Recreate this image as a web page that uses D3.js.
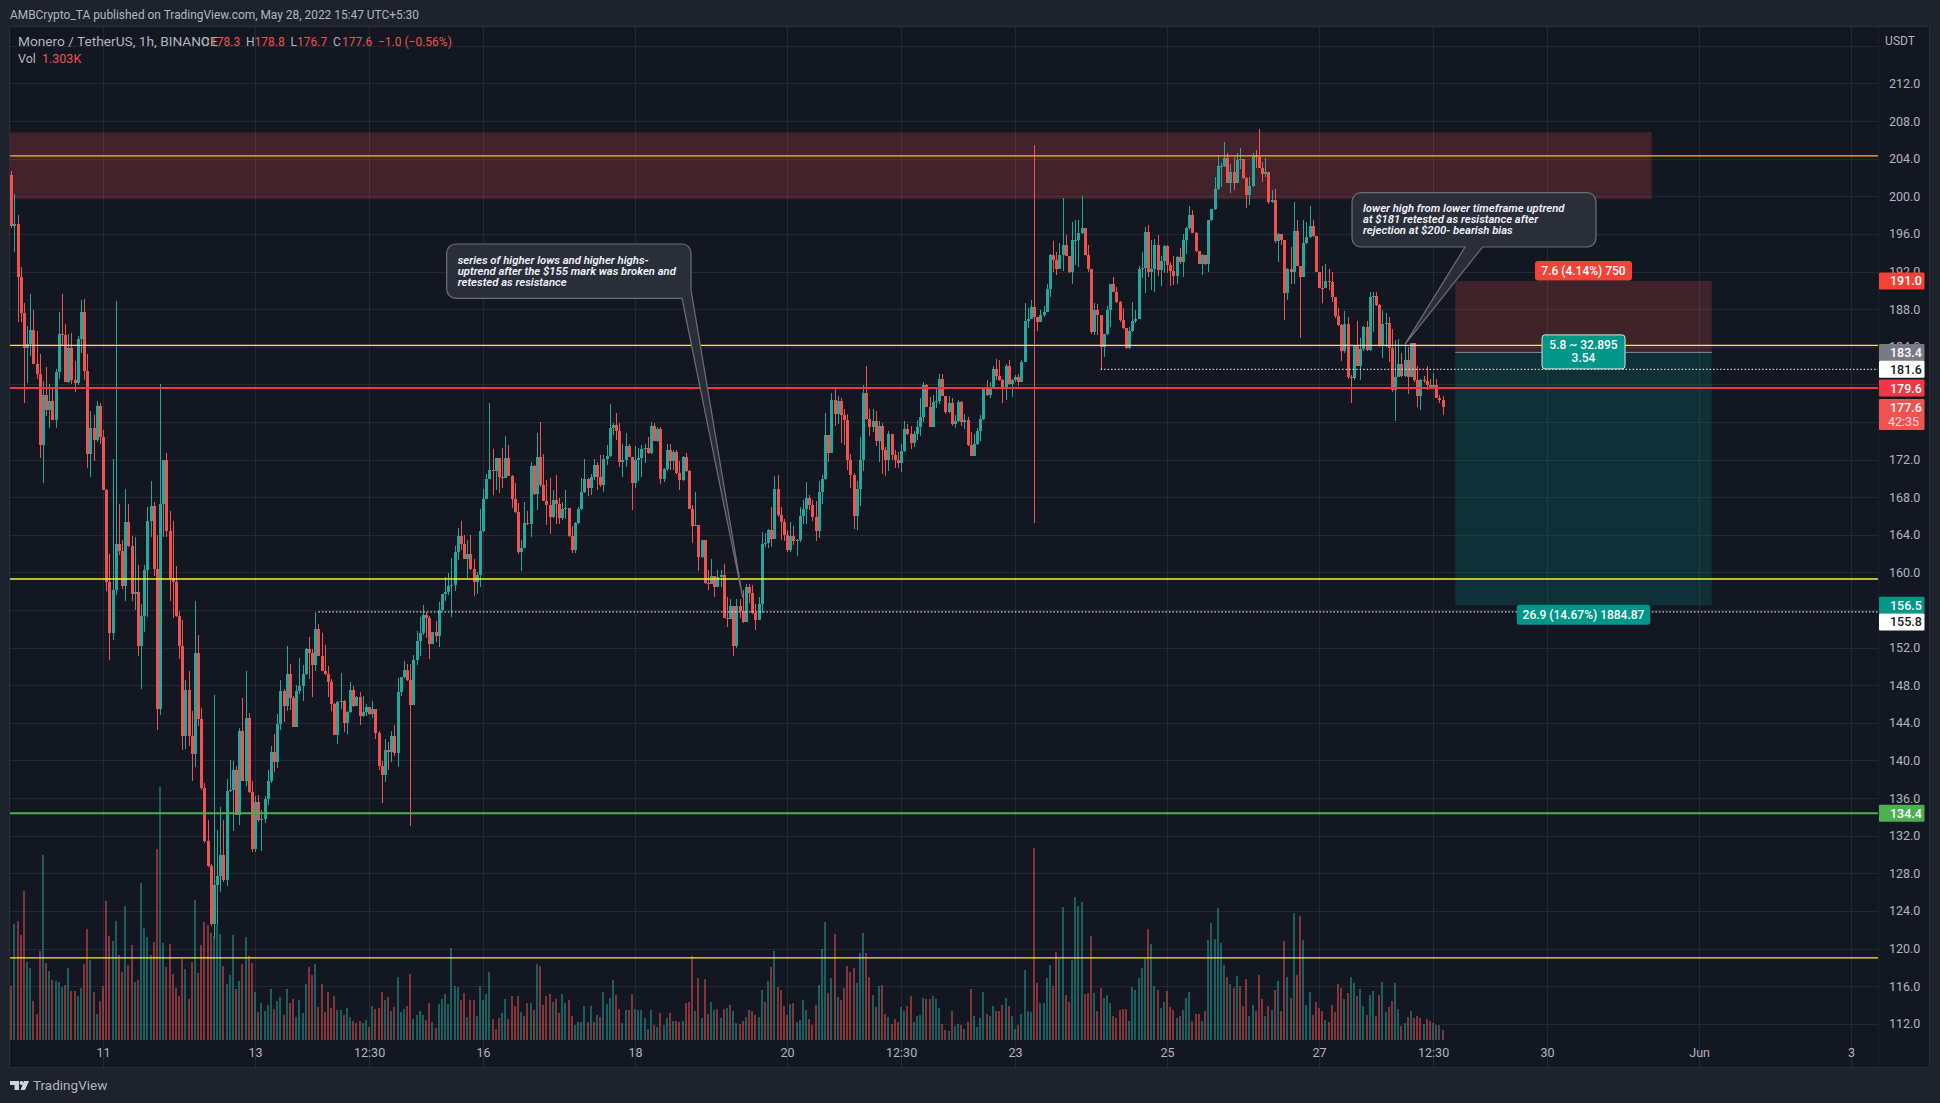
<!DOCTYPE html>
<html>
<head>
<meta charset="utf-8">
<title>XMR/USDT 1h</title>
<script src="https://cdn.jsdelivr.net/npm/d3@7"></script>
<style>
  html, body { margin: 0; padding: 0; background: #1e222d; overflow: hidden; }
  svg { display: block; }
  text { font-family: Roboto, "Noto Sans", sans-serif; }
</style>
</head>
<body>
<div id="chart"></div>
<script>
// Hourly candles. Each open is the close before it.
const firstOpen = 202.3;
const closes = [
  196.8,197.05,191.45,187.6,183.9,184.3,185.8,182.2,181.1,173.5,
  178.9,177.3,178.2,176.2,181.3,185.4,185.3,180.3,183.9,180.5,
  180.1,184.8,187.7,181.4,172.6,175.4,174.1,177.7,174.4,168.8,
  159,153.6,158.1,163,162.3,158.6,165.4,162.8,157.7,157.9,
  152.2,155.4,160.3,165.5,167.1,160.4,145.5,167.3,172,164.4,
  159.4,159,155.4,152.2,142.6,147.5,142.6,140.7,151.4,144.4,
  137.1,131.4,128.8,122.6,126.8,127.7,130,127.3,136.8,136.9,
  139,134.2,143.1,137.8,144.5,136.6,130.6,135.6,133.7,133.8,
  135.9,137.8,140.9,139.8,143.9,147.4,145.8,149.2,146.6,143.6,
  147.4,147.9,149.2,151.9,151.4,150.2,154,151.1,149.5,149.2,
  148.3,146,142.7,146.2,146.3,144,145.2,147.5,145.8,146.8,
  144.7,145.2,145.7,144.9,145.5,142.9,139.4,138.5,141.1,140.9,
  142.6,140.8,147.3,148.9,149.6,148.6,145.9,150.7,152.7,153.6,
  155.5,155.2,152.4,153.7,153.2,156,157.7,157.9,158.6,158.7,
  162.2,163.9,163,161.4,162,160.4,159,159.7,164.4,167.8,
  169.9,170.9,170.8,172.2,170.1,170,172.2,170.3,167.8,166.4,
  162.2,162.6,165.3,165.1,171.3,168.3,172.3,169.3,167.6,167.2,
  165.9,167.7,167.3,165.8,166.7,166.8,163.9,162.4,165.3,166.7,
  168.6,169.9,169,170.1,171.4,170.2,169.3,172.1,172.4,175.4,
  175.7,175,171.7,172,173.4,172.3,169.5,172,172.2,173.1,
  173.2,172.7,175.6,174,175.2,169.9,171,173,171.9,172.8,
  170.6,169.8,172.3,170.8,166.7,164.9,165.05,161.6,163.4,158.9,
  158.8,159.6,158.4,159.5,159.7,155.1,155,156.4,152.2,156.4,
  155.9,154.7,158.4,157.8,155.7,154.9,156.6,163,163.1,164.5,
  163.6,168.9,166.1,165.4,164,162.4,163.9,163.3,163.4,166,
  166.7,167.9,167.2,165.9,164.4,168.5,169.9,174.6,172.7,178.3,
  176.9,178.2,176.7,176.2,172,170.4,166,168.9,172,179.1,
  176.3,175.5,176.1,174,175.6,173,172,174.7,172.5,172,
  171.6,172.9,175.2,174.7,173.8,174.7,175.5,176.5,179.9,177.6,
  175.5,178.1,178.2,180.6,178.8,177.1,178,175.8,176.1,178.1,
  176,176.2,173.6,172.4,173.7,175,176.3,179.5,178.9,179.6,
  181.6,180.9,180.5,179.6,182,180,180.5,180.8,180.2,182.4,
  186.7,187,188.2,187.2,186.6,187.4,187.7,190.1,193.75,193.2,
  192.3,193.75,194.8,193.65,192,195.35,195.4,196.1,196.6,193.75,
  192.3,185.6,187.9,187.4,184,185.35,187.9,190.7,189.85,188.8,
  186.8,186,183.9,185.7,186.7,187,192.3,192.35,196.2,191.9,
  192.3,194.8,192.15,193.1,194.7,192.7,192.1,191.55,193.5,193,
  195.4,196.6,198,196.15,194.2,192.85,193.75,192.85,197.5,198.6,
  200.8,203.2,203.25,204.1,201.4,202.6,201.4,203.9,203.95,201.9,
  200.1,201.1,204.3,204.2,203,202.4,202.6,199.4,199.6,195.2,
  196,195.3,189.75,192.3,192,196.3,192.6,191.4,195,195.7,
  196.8,195.75,192,190.3,190.2,191,190.9,189.25,187.3,186.3,
  183.6,186.4,180.8,180.7,184.1,182,183.8,186.05,183.7,189.3,
  189.4,188.4,184.1,186.4,186.5,183.9,179.45,180.8,182.2,180.9,
  182.6,180.8,184.35,180.45,178.8,180.5,180.4,179.9,179.6,179.9,
  178.6,178.3,177.6
];
const highs = [
  202.7,200.2,198,192.5,188.7,186.2,189.6,187.9,185.7,183.2,
  180.4,181.8,180,179.6,181.6,187.7,189.6,186.4,185.4,185.5,
  182.5,185.1,189,189.1,183.2,177.2,176.7,178.2,178,175.1,
  168.9,162,172.1,188.9,167.3,163.5,168.9,167.3,163.9,163.8,
  160.8,156.6,160.8,167,169.7,167.5,164,180,172,172.7,
  166.5,165.5,160.7,155.9,154.9,148.6,149.5,145.3,157,153.3,
  145.6,137.6,133.7,129,147,132.6,135,133.7,138,140,
  139.9,139.4,143.5,146.6,149.5,145,137.8,136.2,136.3,134.7,
  136.2,139,141.5,142.8,144.9,148.6,147.6,152.2,150.3,146.9,
  148,150.9,150.2,152,153.1,151.9,155.8,154.5,153.6,152.3,
  150,148.7,146.1,146.3,149.3,146.4,145.3,148.3,147.9,146.9,
  147.3,146.9,146,145.6,146.3,145.5,143.1,139.9,142.3,142,
  143.1,143.8,148.8,148.9,150.6,150.3,150.3,151.2,153.8,155.3,
  156.5,155.8,155.4,153.7,154.8,156.9,157.7,159.5,159.9,161.5,
  162.8,164.7,165.5,164,163.4,164,161.4,160,166.7,168.9,
  170.5,178,173.1,172.2,172.2,173.2,174.5,173.5,170.4,169.5,
  167.4,163.4,167.5,166.5,171.7,171.4,174.8,176,172.6,169.8,
  170,168.8,170.4,167.9,167.5,168.8,166.8,164.9,165.4,167,
  170,172.1,170,170.5,172.1,171.7,172.5,172.5,173.6,177.9,
  175.9,177,175.9,173.7,174.8,173.7,172.3,173.4,173.2,173.6,
  173.7,174.4,176,175.9,175.5,175.5,171.1,173.7,173.7,173,
  173,171.8,172.4,172.7,170.9,167.2,168.5,165,163.5,163.4,
  160.3,161.4,159.6,160.3,160.3,160.9,157.4,157.2,155.1,157.2,
  157.2,158.1,158.8,158.8,158.7,156.6,157.4,164.3,164.2,164.6,
  167,170.3,170.4,167,165.7,164.5,165.4,164.9,163.6,167,
  167.7,169.6,168.2,167.7,167.6,169.7,170.4,177,174.6,179.1,
  179.7,178.8,178.5,177.4,176.9,172.6,170.6,169.7,174.4,179.9,
  181.9,177.4,177.4,177.2,176.1,175.9,173.3,175,174.7,173,
  172.8,173.7,176.1,175.8,175.6,175,176.2,178.5,180.2,180,
  178.7,178.9,179.6,181.1,181.1,178.8,178.8,178.6,176.7,178.3,
  178.2,176.9,176.5,174.9,174.7,175.4,176.7,179.6,180.5,180.2,
  181.9,182.7,182.6,180.6,182.2,182.6,180.6,181,181.1,182.6,
  188.7,188.1,189,205.45,186.6,187.9,188.3,190.7,193.9,195.2,
  194.1,195,199.8,195.9,193.7,197.3,197.5,197.5,200,196.6,
  194.8,192.3,188.6,188.5,187.4,185.4,188.3,190.7,191.4,190.4,
  188.9,188.1,186,186.1,188.8,187.9,192.6,194.1,196.7,197,
  195.3,195.5,195.9,193.6,194.8,194.8,193,193.6,193.6,194.5,
  196,196.7,199,198.5,196.2,194.2,193.9,193.7,197.5,198.7,
  202.1,204.3,203.5,205.8,204.6,203.4,204.2,204.6,205.1,203.9,
  202,202.1,204.6,204.9,207.2,203.7,204.1,202.5,200.7,200.8,
  196.1,195.8,195.3,192.4,194.6,199.4,197.5,192.6,197.5,197.3,
  199,197.5,195.8,192,192.6,192.8,192.3,192,189.3,188.1,
  186.4,187.8,187.2,181,184.2,186.7,184.9,186.2,186.7,189.8,
  189.8,189.8,188.5,187.9,187.6,187.2,185.9,184.7,184.8,183.3,
  184.3,184,184.4,184.4,181.9,180.6,180.9,181.9,180.6,181.2,
  180.6,178.9,178.8
];
const lows = [
  196.6,194.1,186.6,186.6,178,180.1,183,182.2,180.6,172.2,
  169.5,176.6,175.4,176.2,175.4,180.6,184.2,180.3,180.1,180,
  179.2,179.9,183.3,180.5,171.1,170.1,171.8,173.9,173.7,168.8,
  158,150.7,152.8,157.6,161.9,158.2,157,162.7,157,156,
  151.1,147.6,153.7,155.3,163.8,159.6,143.2,144.8,163.8,163.8,
  157,155.1,155.3,150.8,141.1,141.2,141.5,137.8,139.3,143.7,
  136.9,131.2,128.7,122.4,121.1,122.5,126,127.1,126.6,136.7,
  132.5,134.2,133.1,137.8,137.3,136.5,130.3,130.3,133.5,130.4,
  133.4,135.3,137.6,138.8,139.2,143.2,144.1,145.3,145.4,143.6,
  143.6,147.1,146.3,149.1,148.7,146.8,149.5,151.1,149.5,149.1,
  146.8,145.3,142.7,141.8,145.5,143,142.8,145.1,145.7,145.9,
  143.8,144.6,144.7,144.8,144.5,142.3,139,135.5,137.7,139,
  139.8,140.5,139.3,146.9,148.8,148.4,133,145.9,150.2,151.1,
  153.3,153,150.8,152.4,152.6,152.1,155.9,157,157.6,155.3,
  158,161.3,162.4,161.4,159.4,160.3,157.5,157.7,158.5,164.3,
  167.8,169.9,168.2,168.8,168.4,169,170,170.3,166.8,166.3,
  162,160.1,162.6,165,163.8,168.2,166.6,169.1,167.6,165,
  164.1,165.8,165.2,165.2,165.6,165.7,163.8,162.1,162.1,165.1,
  166.6,168.4,168.1,168.2,169.8,168.8,169.1,168.6,171.4,172.3,
  174.6,174.1,171.2,170.2,171.2,172.3,166.6,169,169.7,170.2,
  171.6,172.6,172.6,174,173.9,169.4,169.6,170.8,170.9,170.9,
  170.5,168.8,169.7,170.7,166.7,163.1,164.9,160.1,161.5,158.8,
  158.1,158.8,157.4,158.4,158.4,155.1,154.2,155,151.1,152,
  155.2,154.6,154.7,156.7,155.6,153.9,154.9,155.7,162.7,162.6,
  162.7,163.6,165.9,163.4,163.3,162.2,162.2,162.9,161.7,163.2,
  165.2,165.2,166.6,165.5,163.3,163.7,167.3,169.8,171.7,172.7,
  175.6,175.8,173.8,173.6,170.9,169,164.6,164.5,167.1,170.8,
  176.2,174.5,174.9,173.4,171.7,170.5,170.3,170.8,172,171.1,
  171.1,170.7,172.8,174.6,173.1,173.3,174.1,174.5,176,177.6,
  175.5,175.5,177.5,177.9,178.8,176.9,177,175.6,175.4,176,
  175.6,175.2,173.4,172.4,172.4,173.5,174,176.2,178.8,178.5,
  179.5,180.5,180.4,178,178.3,179.9,178.7,180.2,179.8,180.3,
  182.4,186,187,165.3,185.7,186.6,187.2,187.7,189.3,192,
  191.6,192.3,192.1,193.6,191.8,190.7,192.7,192.5,196,193.75,
  192,185.4,185.3,185.2,181.6,182.9,185.3,186.1,189.85,188.7,
  186.6,185.9,183.8,183.8,185.6,186.5,187,191.3,189.7,191.4,
  190,189.8,191.5,190.5,191.8,191.8,190.5,190.6,190.7,192.8,
  191.45,193.9,196.4,196.1,194.1,192.85,191.6,192.7,192,197.4,
  198.5,200.7,201,203.1,201.4,200.4,200.7,201.4,202.9,201.8,
  198.8,199.1,201,203,203,201.5,202.1,199.2,199.3,195,
  193,194.8,186.8,189,190.7,190.7,192.6,184.9,191.4,194.9,
  195.6,195.7,191.9,190.2,188.7,190.2,190,188.8,187.1,186.2,
  182.5,183.3,180.6,178,180.5,181.9,180.5,183.5,183.5,183.6,
  185.6,188.3,184,182.8,184,182.4,179.2,176.1,180.8,180.8,
  180.8,179,180.8,180.3,177.6,177.3,180.1,179.4,179.5,179.5,
  178.5,178,176.7
];
// Volume in thousands. Negative = the bar is a down hour.
const volumes = [
  -7,15.1,-15.5,-13.7,-19.4,10.2,9.4,-5.1,-3.4,-11.6,
  24.1,-10,9,-7.8,7.7,7.6,6.9,-7.2,9.4,-6.4,
  -6.4,5.7,6.8,-9.9,-14.5,10.4,-6.3,3.4,-5.1,-7,
  -18.1,-13.6,12.9,15.5,-11.1,-8.9,17.5,-9.8,-12.4,7.6,
  -7.8,20.5,14.6,13.4,11.1,-12.8,-24.9,33,12.7,-9.5,
  -12.5,-8.6,-6.8,-5.7,-10.6,9.3,-5.3,-10.2,18.3,-8.7,
  -12.4,-15.4,-15,-14,13.5,15,13.8,-9.7,7.3,8.5,
  13.7,-6.7,7.7,-9.9,13.4,-11,-10,6.3,-3.7,4.8,
  3.8,4.6,6.7,-4,5.1,5.6,-3.3,6.7,-4.8,-5.3,
  3,5.2,3.5,7.3,-9.5,-8.5,9.9,-4.3,-7.3,-3.7,
  -6.3,-4.2,-5.7,3.9,3.9,-3.3,4.2,3,-2.5,-2.2,
  -2.5,2.2,2.6,-1.7,4.4,-4,-4.2,-6.3,5.2,-5.6,
  3.8,-4.3,8.2,3.6,4,-4.4,-8.6,2.8,3.3,3.8,
  3.3,-2.6,-4.8,2.4,-1.6,4.7,5.4,6,4.7,12,
  7,6.9,-5.2,-6.1,3,-5.2,-5.2,3.1,7,5.2,
  6,8.9,-2.8,-1.4,-2.9,3.5,5.4,-2.7,-5.7,-4.4,
  -5.8,3.7,-3.1,-4.8,4.8,-3.9,9.9,-9.7,-4.6,-5.7,
  -6,5,-5.3,-3.5,6,4.8,-5.2,-3.1,2,2.3,
  2.3,4.4,-2.3,4.4,-2.3,3.2,-3,6.3,4.7,5.5,
  7.8,-5.9,-4,2.2,3.9,-3.9,-6,4.1,3.9,3.9,
  2.9,-1.4,3.9,-2,1.7,-3.5,2,2.9,-3.5,2.5,
  -2.5,-2.3,2.5,-4.8,-5,-11,3.8,-8.1,2.9,-8,
  -3.4,5,3.9,-4,2.9,-4,4.2,-4.6,3.8,2.2,
  -2.1,-2.5,3,-3.9,-3.8,-3.3,3,6.5,-5,7.7,
  -9.5,11.6,-6.9,-6.5,-4.4,-3.3,4.7,-4.8,2.3,2.6,
  5.2,3.9,-2.7,-2,-4.6,7.2,11.9,15.4,-6.1,8.1,
  -13.8,5.6,-5.2,-6.8,-9.7,-8.9,-9.4,7.4,11.3,14,
  -11.3,-8.2,5.9,-4.3,7,-7.2,-3.4,3,-2.1,-2.7,
  -2.3,4.3,3.8,-4.4,-5.7,2.3,3.1,3.3,5.5,-5.3,
  -5.3,5.7,5.3,4.2,-2.1,-1.3,1.2,-3.8,1.8,2.1,
  -2,1.4,-2.3,-6.7,3.1,1.7,2.9,6.3,-3.4,3.1,
  4.4,-3.8,-3.8,-4.6,5.5,-4.4,3.1,1.4,-2,3.4,
  9.1,3.8,3.7,-25,-7.4,4.8,4.8,8.1,9.8,-7,
  -11.5,10.6,17.3,-5.9,-5,10.4,18.7,17.5,18,-6,
  -6.1,-13.6,6.1,-3.8,-6.8,5.5,5.9,4.8,-3.1,-2.9,
  -3.9,-4,-4,2.5,6.9,6.5,8.1,9.4,10.6,-14.5,
  12.5,7,-6.5,4.2,5,-6.4,-4.3,-3.9,2.9,-3.1,
  3.9,5.5,6.3,-2.5,-3.4,-3.4,2.5,-3.8,13,15.3,
  13.2,17.2,12.7,9.8,-8.2,7.3,-6.8,8.3,-7,-4.4,
  -8,3.1,4.6,-3.8,-8.5,-5.3,3.1,-4.4,3.9,-6.5,
  7.7,-3.8,-12.9,8.2,-5.5,16.6,-8.5,-16.2,13,4.6,
  6.3,-3.3,-5,-4.2,-3.8,2.6,-2.3,-4.6,-3.7,-7.3,
  -6.8,5.3,-6.1,8.2,7.4,-5.7,6.7,4.4,-3.3,5.9,
  6.4,-3.1,-5.9,7.6,3.7,-4.3,-5.1,7.4,4,-1.8,
  2.2,-3,3.8,-2.9,-3.1,-2.9,2.1,-2.7,-2.5,2.2,
  -2,2,-1.3
];

// 156, 176 and 180 sit fully behind the price tags in the picture, so they get no label
const priceTicks = [112,116,120,124,128,132,136,140,144,148,152,160,164,168,172,184,188,192,196,200,204,208,212];
const gridPrices = d3.range(112, 217, 4);
const timeTickBars = [29, 77, 113, 149, 197, 245, 281, 317, 365, 413, 449, 485, 533, 581];
const timeTickLabels = ['11', '13', '12:30', '16', '18', '20', '12:30', '23', '25', '27', '12:30', '30', 'Jun', '3'];

// horizontal levels drawn on the chart
const levelPrices = [204.3, 184.15, 159.3, 119];
const supportPrice = 134.4;
const resistancePrice = 179.6;
const dottedLevels = [[181.6, 344], [155.8, 97]]; // price, bar where the dots start
const resistanceZone = [206.8, 199.7];
const stopPrice = 191, entryPrice = 183.4, targetPrice = 156.5;
const priceTags = ['191.0', '183.4', '181.6', '179.6', '156.5', '155.8', '134.4'];
const tagColors = ['#f44336', '#787b86', '#ffffff', '#f23645', '#009688', '#ffffff', '#4caf50'];

const width = 1940, height = 1103;
const paneLeft = 10, paneRight = 1878, paneTop = 27, paneBottom = 1067, volumeBase = 1040;
const upColor = '#26a69a', downColor = '#ef5350', axisColor = '#b2b5be';

const x = d3.scaleLinear().domain([0, 452]).range([11.26, 1442.6]);
const y = d3.scaleLinear().domain([200, 132]).range([196.3, 835.7]);
const volY = d3.scaleLinear().domain([0, 100]).range([volumeBase, volumeBase - 767]);

const bars = closes.map((close, i) => ({
  i, close,
  open: i === 0 ? firstOpen : closes[i - 1],
  high: highs[i],
  low: lows[i],
  vol: Math.abs(volumes[i]),
  volUp: volumes[i] > 0
}));

const svg = d3.select('#chart').append('svg')
  .attr('width', width)
  .attr('height', height);

// pane
svg.append('rect').attr('width', width).attr('height', height).attr('fill', '#1e222d');
svg.append('rect')
  .attr('x', paneLeft - 0.5).attr('y', paneTop - 0.5)
  .attr('width', 1930 - paneLeft).attr('height', paneBottom - paneTop + 1)
  .attr('fill', '#131722').attr('stroke', '#2a2e39').attr('stroke-width', 1);

svg.append('clipPath').attr('id', 'pane').append('rect')
  .attr('x', paneLeft).attr('y', paneTop)
  .attr('width', paneRight - paneLeft).attr('height', paneBottom - paneTop);

const plot = svg.append('g').attr('clip-path', 'url(#pane)');

// grid
plot.selectAll('.hgrid')
  .data(gridPrices)
  .join('line')
    .attr('x1', paneLeft).attr('x2', paneRight)
    .attr('y1', d => Math.round(y(d)) + 0.5).attr('y2', d => Math.round(y(d)) + 0.5)
    .attr('stroke', '#242832');
plot.selectAll('.vgrid')
  .data(timeTickBars)
  .join('line')
    .attr('x1', d => Math.round(x(d)) + 0.5).attr('x2', d => Math.round(x(d)) + 0.5)
    .attr('y1', paneTop).attr('y2', volumeBase + 27)
    .attr('stroke', '#242832');

// resistance box at the top, then the short position boxes
plot.append('rect')
  .attr('x', paneLeft).attr('width', x(518) - paneLeft)
  .attr('y', y(resistanceZone[0])).attr('height', y(resistanceZone[1]) - y(resistanceZone[0]))
  .attr('fill', '#ef5350').attr('fill-opacity', 0.22);
plot.append('rect')
  .attr('x', x(456)).attr('width', x(537) - x(456))
  .attr('y', y(stopPrice)).attr('height', y(entryPrice) - y(stopPrice))
  .attr('fill', '#ef5350').attr('fill-opacity', 0.2);
plot.append('rect')
  .attr('x', x(456)).attr('width', x(537) - x(456))
  .attr('y', y(entryPrice)).attr('height', y(targetPrice) - y(entryPrice))
  .attr('fill', '#009688').attr('fill-opacity', 0.2);

// volume
plot.selectAll('.vol')
  .data(bars)
  .join('rect')
    .attr('class', 'vol')
    .attr('x', d => Math.round(x(d.i)) - 1)
    .attr('width', 2)
    .attr('y', d => volY(d.vol))
    .attr('height', d => volumeBase - volY(d.vol))
    .attr('fill', d => d.volUp ? upColor : downColor)
    .attr('fill-opacity', 0.5)
    .attr('shape-rendering', 'crispEdges');

// candles
plot.selectAll('.wick')
  .data(bars)
  .join('rect')
    .attr('class', 'wick')
    .attr('x', d => Math.round(x(d.i)))
    .attr('width', 1)
    .attr('y', d => y(d.high))
    .attr('height', d => y(d.low) - y(d.high))
    .attr('fill', d => d.close >= d.open ? upColor : downColor)
    .attr('shape-rendering', 'crispEdges');
plot.selectAll('.body')
  .data(bars)
  .join('rect')
    .attr('class', 'body')
    .attr('x', d => Math.round(x(d.i)) - 1)
    .attr('width', 3)
    .attr('y', d => y(Math.max(d.open, d.close)))
    .attr('height', d => Math.max(1, Math.abs(y(d.open) - y(d.close))))
    .attr('fill', d => d.close >= d.open ? upColor : downColor)
    .attr('shape-rendering', 'crispEdges');

// levels
plot.selectAll('.level')
  .data(levelPrices)
  .join('line')
    .attr('x1', paneLeft).attr('x2', paneRight)
    .attr('y1', d => y(d)).attr('y2', d => y(d))
    .attr('stroke', (d, i) => i === 0 ? '#ffb62e' : '#ffeb3b')
    .attr('stroke-width', 1.3);
plot.append('line')
  .attr('x1', paneLeft).attr('x2', paneRight)
  .attr('y1', y(resistancePrice)).attr('y2', y(resistancePrice))
  .attr('stroke', '#f23645').attr('stroke-width', 2);
plot.append('line')
  .attr('x1', paneLeft).attr('x2', paneRight)
  .attr('y1', y(supportPrice)).attr('y2', y(supportPrice))
  .attr('stroke', '#4caf50').attr('stroke-width', 2);
plot.selectAll('.dotted')
  .data(dottedLevels)
  .join('line')
    .attr('x1', d => x(d[1])).attr('x2', paneRight)
    .attr('y1', d => y(d[0])).attr('y2', d => y(d[0]))
    .attr('stroke', '#ffffff').attr('stroke-width', 1)
    .attr('stroke-dasharray', '1.5 2');
plot.append('line')
  .attr('x1', x(456)).attr('x2', x(537))
  .attr('y1', y(entryPrice)).attr('y2', y(entryPrice))
  .attr('stroke', '#8a8d96').attr('stroke-width', 1);

// price axis
const yAxis = d3.axisRight(y)
  .tickValues(priceTicks)
  .tickFormat(d3.format('.1f'))
  .tickSize(0)
  .tickPadding(11);
const yAxisG = svg.append('g').attr('transform', `translate(${paneRight},0)`).call(yAxis);
yAxisG.select('.domain').remove();
yAxisG.selectAll('text').attr('fill', axisColor).attr('font-size', 12.5).attr('font-family', 'Roboto');

// time axis
const xAxis = d3.axisBottom(x)
  .tickValues(timeTickBars)
  .tickFormat((d, i) => timeTickLabels[i])
  .tickSize(0)
  .tickPadding(8);
const xAxisG = svg.append('g').attr('transform', `translate(0,${volumeBase})`).call(xAxis);
xAxisG.select('.domain').remove();
xAxisG.selectAll('text').attr('fill', axisColor).attr('font-size', 12.5).attr('font-family', 'Roboto');

svg.append('line')
  .attr('x1', paneRight + 0.5).attr('x2', paneRight + 0.5)
  .attr('y1', paneTop).attr('y2', paneBottom)
  .attr('stroke', '#1c202a');

svg.append('text')
  .attr('x', 1900).attr('y', 45)
  .attr('text-anchor', 'middle')
  .attr('fill', axisColor).attr('font-size', 12)
  .text('USDT');

// price tags on the axis. 155.8 is pushed down so it clears 156.5
const tagShift = { '155.8': 10 };
const tagGroup = svg.selectAll('.tag')
  .data(priceTags)
  .join('g')
    .attr('class', 'tag')
    .attr('transform', d => `translate(${paneRight + 1},${y(+d) + (tagShift[d] || 0)})`);
tagGroup.append('rect')
  .attr('y', -8.5).attr('width', 45.5).attr('height', 17).attr('rx', 1)
  .attr('fill', (d, i) => tagColors[i]);
tagGroup.append('text')
  .attr('x', 11).attr('y', 4.5)
  .attr('font-size', 12.5).attr('font-weight', 500)
  .attr('fill', (d, i) => tagColors[i] === '#ffffff' ? '#131722' : '#ffffff')
  .text(d => d);

// last price and countdown
const lastPrice = closes[closes.length - 1];
svg.append('rect')
  .attr('x', paneRight + 1).attr('y', y(lastPrice) - 8)
  .attr('width', 45.5).attr('height', 31).attr('rx', 1)
  .attr('fill', '#ef5350');
svg.append('text')
  .attr('x', paneRight + 12).attr('y', y(lastPrice) + 5)
  .attr('font-size', 12.5).attr('font-weight', 500).attr('fill', '#ffffff')
  .text(lastPrice.toFixed(1));
svg.append('text')
  .attr('x', paneRight + 10).attr('y', y(lastPrice) + 19)
  .attr('font-size', 12.5).attr('fill', '#ffd5d3')
  .text('42:35');

// labels of the position tool
function posLabel(cx, top, w, h, fill, lines, stroke) {
  svg.append('rect')
    .attr('x', cx - w / 2).attr('y', top)
    .attr('width', w).attr('height', h).attr('rx', 3)
    .attr('fill', fill)
    .attr('stroke', stroke || 'none');
  lines.forEach((t, i) => {
    svg.append('text')
      .attr('x', cx).attr('y', top + 14.5 + i * 13)
      .attr('text-anchor', 'middle')
      .attr('fill', '#ffffff').attr('font-size', 12).attr('font-weight', 500)
      .text(t);
  });
}
const posMid = (x(456) + x(537)) / 2;
posLabel(posMid, y(stopPrice) - 20, 97, 19.5, '#f44336', ['7.6 (4.14%) 750']);
posLabel(posMid, y(entryPrice) - 17.5, 83, 34, '#009688', ['5.8 ~ 32.895', '3.54'], '#d8e6e4');
posLabel(posMid, y(targetPrice) - 0.5, 133.5, 20, '#009688', ['26.9 (14.67%) 1884.87']);

// callouts
function callout(box, tail, tip, lines) {
  const [l, t, r, b] = box;
  const rad = 9;
  const tipX = x(tip[0]), tipY = y(tip[1]);
  const path = d3.path();
  path.moveTo(l + rad, t);
  path.lineTo(r - rad, t);
  path.arcTo(r, t, r, t + rad, rad);
  if (tail.side === 'right') {
    path.lineTo(r, tail.a);
    path.lineTo(tipX, tipY);
    path.lineTo(tail.b, b);
  } else {
    path.lineTo(r, b - rad);
    path.arcTo(r, b, r - rad, b, rad);
    path.lineTo(tail.b, b);
    path.lineTo(tipX, tipY);
    path.lineTo(tail.a, b);
  }
  path.lineTo(l + rad, b);
  path.arcTo(l, b, l, b - rad, rad);
  path.lineTo(l, t + rad);
  path.arcTo(l, t, l + rad, t, rad);
  path.closePath();
  svg.append('path')
    .attr('d', path.toString())
    .attr('fill', '#2a2e39')
    .attr('stroke', '#6c6f7a')
    .attr('stroke-width', 1.2);
  lines.forEach((line, i) => {
    svg.append('text')
      .attr('x', l + 11).attr('y', t + 19.5 + i * 11)
      .attr('fill', '#f0f3fa')
      .attr('font-family', '"Open Sans"')
      .attr('font-style', 'italic')
      .attr('font-weight', 600)
      .attr('font-size', 11.3)
      .text(line);
  });
}
callout([446.7, 244, 691, 298.3], { side: 'right', a: 290, b: 682 }, [231, 157.3], [
  'series of higher lows and higher highs-',
  'uptrend after the $155 mark was broken and',
  'retested as resistance'
]);
callout([1352, 192.7, 1596, 247], { side: 'bottom', a: 1465, b: 1482.6 }, [440, 184.2], [
  'lower high from lower timeframe uptrend',
  'at $181 retested as resistance after',
  'rejection at $200- bearish bias'
]);

// header
svg.append('text')
  .attr('x', 10).attr('y', 19)
  .attr('fill', axisColor).attr('font-size', 13)
  .attr('textLength', 409).attr('lengthAdjust', 'spacingAndGlyphs')
  .text('AMBCrypto_TA published on TradingView.com, May 28, 2022 15:47 UTC+5:30');

// legend row, one text per piece so the gaps follow the picture
const legendTexts = ['Monero / TetherUS, 1h, BINANCE', 'O', '178.3', 'H', '178.8', 'L', '176.7', 'C', '177.6', '\u22121.0 (\u22120.56%)'];
const legendStarts = [18, 201, 210, 246, 254.5, 290.5, 297, 333, 342, 378];
svg.selectAll('.legend')
  .data(legendTexts)
  .join('text')
    .attr('class', 'legend')
    .attr('x', (d, i) => legendStarts[i])
    .attr('y', 46)
    .attr('font-size', (d, i) => i === 0 ? 13.7 : 12)
    .attr('fill', (d, i) => (i === 0 || i === 1 || i === 3 || i === 5 || i === 7) ? axisColor : downColor)
    .text(d => d);

svg.append('text').attr('x', 18).attr('y', 63).attr('font-size', 12.5).attr('fill', axisColor).text('Vol');
svg.append('text').attr('x', 42).attr('y', 63).attr('font-size', 12.5).attr('fill', downColor).text('1.303K');

// TradingView mark in the footer
svg.append('path')
  .attr('d', 'M10 1081H19V1090H14.5V1085H10Z M24 1081H29L25 1090H20.5Z')
  .attr('fill', '#d1d4dc');
svg.append('circle').attr('cx', 21.5).attr('cy', 1083).attr('r', 2).attr('fill', '#d1d4dc');
svg.append('text')
  .attr('x', 33).attr('y', 1090)
  .attr('fill', axisColor).attr('font-size', 13.5)
  .text('TradingView');
</script>
</body>
</html>
